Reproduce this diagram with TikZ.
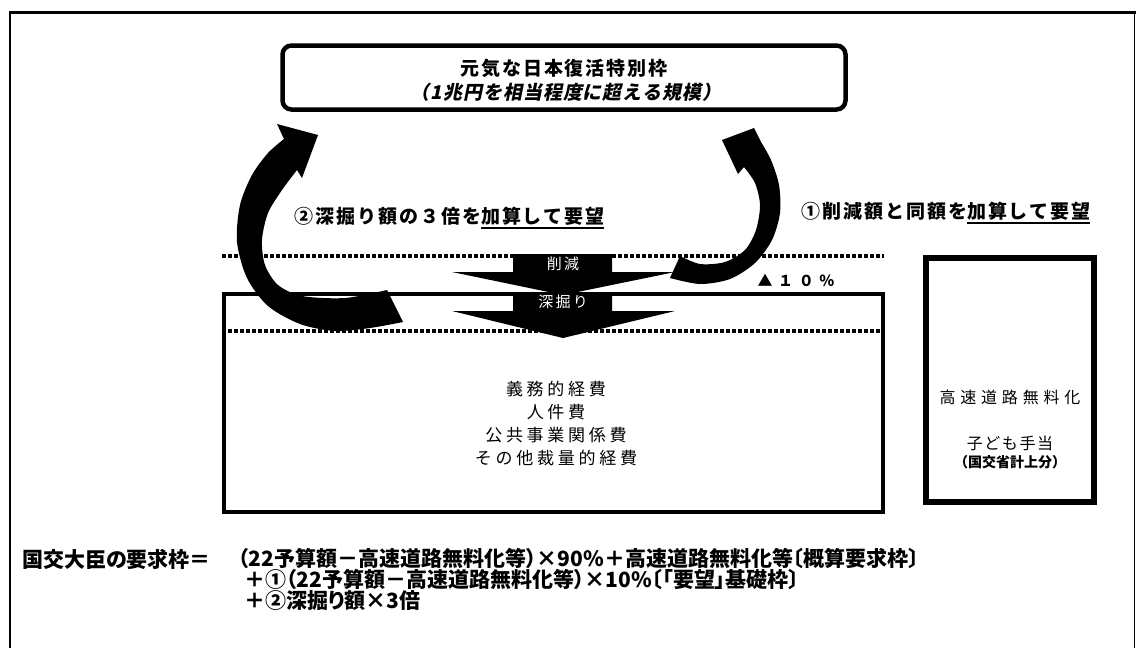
\documentclass[tikz,border=0pt]{standalone}
\usepackage{fontspec}
\newfontfamily\jp{Noto Sans CJK JP}
\newfontfamily\jpsl{Noto Sans CJK JP}[FakeSlant=0.2]
\newcommand\myul[1]{\setbox0\hbox{#1}\rlap{\vrule height -2.8pt depth 4.8pt width \wd0}\box0}
\tikzset{
  frameline/.style={line width=#1},
  boxline/.style={draw, line width=#1},
  dotline/.style={line width=3.5, dash pattern=on 4pt off 2pt},
  bigarrow/.style={fill=black},
  lbl/.style={inner sep=0, font=\jp\bfseries\fontsize{19}{22}\selectfont\addfontfeatures{LetterSpace=10}},
  ttl/.style={inner sep=0, font=\jp\bfseries\fontsize{19}{22}\selectfont\addfontfeatures{LetterSpace=10}},
  ttlit/.style={inner sep=0, font=\jpsl\bfseries\fontsize{19}{22}\selectfont\addfontfeatures{LetterSpace=5}},
  boxtxt/.style={inner sep=0, font=\jp\fontsize{17}{20}\selectfont\addfontfeatures{LetterSpace=22}},
  sidetxt/.style={inner sep=0, font=\jp\fontsize{16}{19}\selectfont\addfontfeatures{LetterSpace=#1}},
  wtxt/.style={inner sep=0, text=white, font=\jp\fontsize{15}{17}\selectfont\addfontfeatures{LetterSpace=15}},
  small/.style={inner sep=0, font=\jp\bfseries\fontsize{14}{16}\selectfont},
  formula/.style={inner sep=0, anchor=west, font=\jp\bfseries\fontsize{21}{24}\selectfont\addfontfeatures{RawFeature=+palt}}
}
\begin{document}
\begin{tikzpicture}[x=1pt,y=-1pt]
\useasboundingbox (0,0) rectangle (1136,648);
% outer frame
\coordinate (fbl) at (10,650);
\coordinate (ftl) at (10,12.5);
\coordinate (ftr) at (1134.5,12.5);
\coordinate (fbr) at (1134.5,650);
\draw[frameline=2.5] (fbl) -- (ftl);
\draw[frameline=3] ([xshift=-1.2pt]ftl) -- ([xshift=2pt]ftr);
\draw[frameline=1.2] (ftr) -- (fbr);

% top box
\node[boxline=4.5, rounded corners=9, minimum width=563, minimum height=64, inner sep=0] (top) at (564,77.5) {};
\node[ttl] (t1) at (564,68) {元気な日本復活特別枠};
\node[ttlit] (t2) at (566,92) {（1兆円を相当程度に超える規模）};

% main box and right box
\node[boxline=4.5, minimum width=659, minimum height=218, inner sep=0] (main) at (553.5,403) {};
\node[boxline=6, minimum width=168, minimum height=244, inner sep=0] (side) at (1010,380) {};

% dotted lines
\coordinate (d1a) at (222,256);
\coordinate (d1b) at (884,256);
\coordinate (d2a) at (222,331);
\coordinate (d2b) at (884,331);
\draw[dotline] (d1a) -- (d1b);
\draw[dotline] (d2a) -- (d2b);

% downward arrows
\fill[bigarrow] (513,254) -- (612,254) -- (612,272) -- (675,272) -- (563,295) -- (452,272) -- (513,272) -- cycle;
\fill[bigarrow] (513,293) -- (612,293) -- (612,311) -- (675,311) -- (563,338) -- (452,311) -- (513,311) -- cycle;
\node[wtxt] (cut) at (563,264) {削減};
\node[wtxt] (deep) at (563,302) {深掘り};

% left curved arrow
\fill[bigarrow] (403,322) -- plot[smooth] coordinates {(403,322) (370,328) (335,331) (300,324) (268,306) (247,278) (237,242) (240,205) (252,175) (268,153) (284,139)}
  -- (277,124) -- (318,135) -- (302,178)
  -- plot[smooth] coordinates {(297,170) (282,190) (268,213) (262,240) (265,265) (278,285) (302,296) (345,298) (387,290)} -- cycle;

% right curved arrow
\fill[bigarrow] (670,278) -- plot[smooth] coordinates {(670,278) (700,284) (730,279) (755,263) (772,240) (780,213) (779,185) (771,160) (761,142)}
  -- (754,128) -- (722,140) -- (738,174)
  -- plot[smooth] coordinates {(744,167) (755,183) (760,205) (756,230) (745,250) (725,262) (700,264) (680,256)} -- cycle;

% labels
\node[lbl] (l2) at (449.5,218) {②深掘り額の３倍を\myul{加算して要望}};
\node[lbl] (l1) at (946,213) {①削減額と同額を\myul{加算して要望}};
\node[inner sep=0, font=\jp\bfseries\fontsize{15}{18}\selectfont\addfontfeatures{LetterSpace=37}] (pct) at (796,280) {▲１０％};

% main box text
\node[boxtxt] (m1) at (556,389) {義務的経費};
\node[boxtxt] (m2) at (556,412) {人件費};
\node[boxtxt] (m3) at (556,435) {公共事業関係費};
\node[boxtxt] (m4) at (556,458) {その他裁量的経費};

% side box text
\node[sidetxt=30] (s1) at (1010,397) {高速道路無料化};
\node[sidetxt=10] (s2) at (1010,443) {子ども手当};
\node[small] (s3) at (1010,462) {（国交省計上分）};

% formula
\node[formula] (f0) at (22,559) {国交大臣の要求枠＝};
\node[formula] (f1) at (238,559) {（22予算額－高速道路無料化等）×90\%＋高速道路無料化等〔概算要求枠〕};
\node[formula] (f2) at (244,580) {＋①（22予算額－高速道路無料化等）×10\%〔「要望」基礎枠〕};
\node[formula] (f3) at (244,601) {＋②深掘り額×3倍};
\end{tikzpicture}
\end{document}
